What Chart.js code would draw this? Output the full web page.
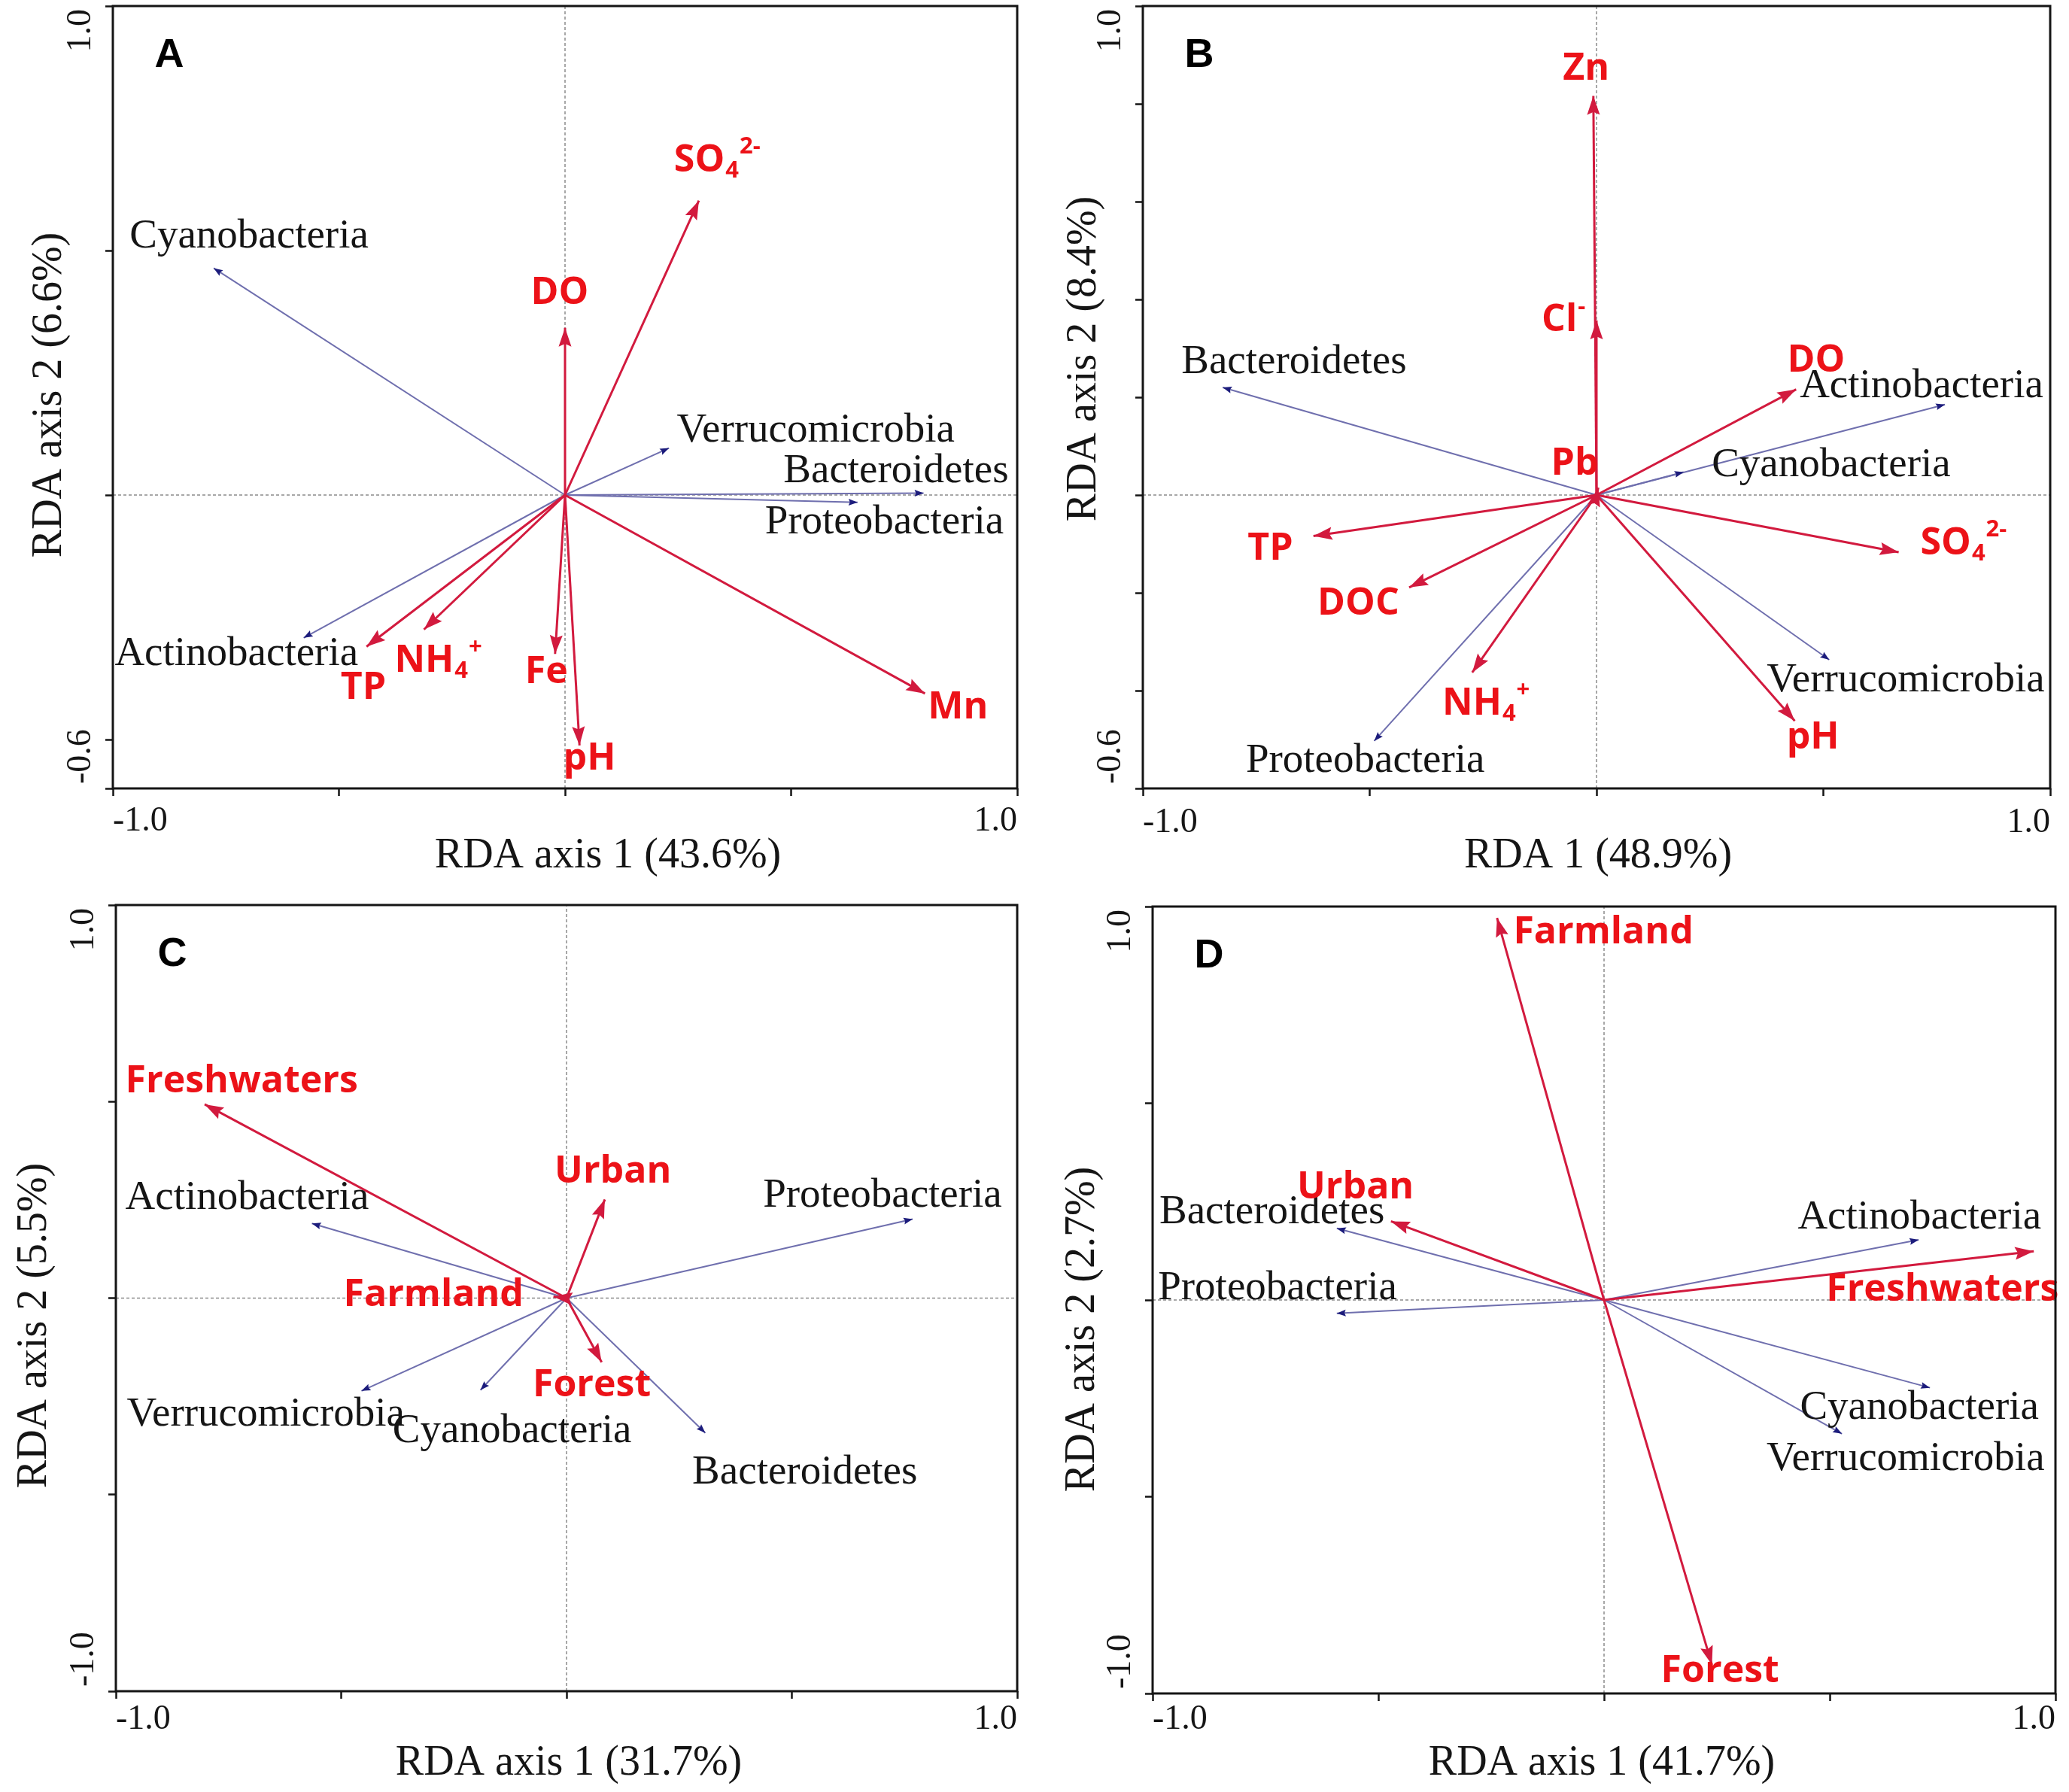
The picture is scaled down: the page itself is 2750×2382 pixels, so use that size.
<!DOCTYPE html>
<html>
<head>
<meta charset="utf-8">
<title>RDA biplots</title>
<script src="https://cdn.jsdelivr.net/npm/chart.js@4.4.1/dist/chart.umd.min.js"></script>
<style>
  html, body { margin: 0; padding: 0; background: #fff; }
  #wrap { position: relative; width: 2750px; height: 2382px; }
  canvas { position: absolute; }
</style>
</head>
<body>
<div id="wrap">
  <canvas id="panelA" width="1375" height="1191" style="left:0;top:0"></canvas>
  <canvas id="panelB" width="1375" height="1191" style="left:1375px;top:0"></canvas>
  <canvas id="panelC" width="1375" height="1191" style="left:0;top:1191px"></canvas>
  <canvas id="panelD" width="1375" height="1191" style="left:1375px;top:1191px"></canvas>
</div>
<script>
// ---- data ----
const xTicks = [-1.0, -0.5, 0, 0.5, 1.0];

// A: water chemistry
const speciesNamesA = ['Cyanobacteria', 'Verrucomicrobia', 'Bacteroidetes', 'Proteobacteria', 'Actinobacteria'];
const speciesXA = [-0.777, 0.230, 0.793, 0.647, -0.578];
const speciesYA = [0.464, 0.096, 0.004, -0.015, -0.292];
const envNamesA = ['SO_4^2-', 'DO', 'TP', 'NH_4^+', 'Fe', 'pH', 'Mn'];
const envXA = [0.296, 0.000, -0.439, -0.312, -0.022, 0.032, 0.796];
const envYA = [0.602, 0.342, -0.310, -0.275, -0.325, -0.512, -0.406];
const yTicksA = [-0.6, -0.5, 0, 0.5, 1.0];

// B: water chemistry + metals
const speciesNamesB = ['Bacteroidetes', 'Actinobacteria', 'Cyanobacteria', 'Verrucomicrobia', 'Proteobacteria'];
const speciesXB = [-0.824, 0.768, 0.192, 0.513, -0.490];
const speciesYB = [0.220, 0.185, 0.047, -0.337, -0.503];
const envNamesB = ['Zn', 'Cl^-', 'DO', 'Pb', 'TP', 'DOC', 'NH_4^+', 'SO_4^2-', 'pH'];
const envXB = [-0.007, 0.000, 0.440, 0.004, -0.624, -0.413, -0.274, 0.666, 0.437];
const envYB = [0.816, 0.357, 0.216, 0.015, -0.084, -0.189, -0.363, -0.117, -0.462];
const yTicksB = [-0.6, -0.4, -0.2, 0, 0.2, 0.4, 0.6, 0.8, 1.0];

// C: land use
const speciesNamesC = ['Actinobacteria', 'Proteobacteria', 'Verrucomicrobia', 'Cyanobacteria', 'Bacteroidetes'];
const speciesXC = [-0.565, 0.768, -0.455, -0.191, 0.308];
const speciesYC = [0.190, 0.201, -0.236, -0.234, -0.343];
const envNamesC = ['Freshwaters', 'Urban', 'Farmland', 'Forest'];
const envXC = [-0.803, 0.085, -0.029, 0.078];
const envYC = [0.493, 0.251, 0.004, -0.163];
const yTicksC = [-1.0, -0.5, 0, 0.5, 1.0];

// D: land use
const speciesNamesD = ['Bacteroidetes', 'Proteobacteria', 'Actinobacteria', 'Cyanobacteria', 'Verrucomicrobia'];
const speciesXD = [-0.592, -0.592, 0.697, 0.722, 0.527];
const speciesYD = [0.182, -0.034, 0.153, -0.223, -0.340];
const envNamesD = ['Farmland', 'Urban', 'Freshwaters', 'Forest'];
const envXD = [-0.237, -0.472, 0.952, 0.239];
const envYD = [0.971, 0.200, 0.124, -0.927];
const yTicksD = [-1.0, -0.5, 0, 0.5, 1.0];

// ---- label placement (data coords of the text anchor) ----
const placeA = {
  'Cyanobacteria': [-0.963, 0.529, 'left'], 'Verrucomicrobia': [0.247, 0.131, 'left'],
  'Bacteroidetes': [0.483, 0.049, 'left'], 'Proteobacteria': [0.442, -0.056, 'left'],
  'Actinobacteria': [-0.996, -0.325, 'left'],
  'SO_4^2-': [0.241, 0.684, 'left'], 'DO': [-0.012, 0.412, 'center'], 'TP': [-0.446, -0.395, 'center'],
  'NH_4^+': [-0.377, -0.339, 'left'], 'Fe': [-0.041, -0.363, 'center'], 'pH': [0.054, -0.540, 'center'],
  'Mn': [0.869, -0.435, 'center']
};
const placeB = {
  'Bacteroidetes': [-0.915, 0.271, 'left'], 'Actinobacteria': [0.448, 0.222, 'left'],
  'Cyanobacteria': [0.254, 0.061, 'left'], 'Verrucomicrobia': [0.375, -0.380, 'left'],
  'Proteobacteria': [-0.773, -0.544, 'left'],
  'Zn': [-0.023, 0.871, 'center'], 'Cl^-': [-0.121, 0.357, 'left'], 'DO': [0.484, 0.275, 'center'],
  'Pb': [-0.048, 0.064, 'center'], 'TP': [-0.719, -0.111, 'center'], 'DOC': [-0.525, -0.222, 'center'],
  'NH_4^+': [-0.340, -0.427, 'left'], 'SO_4^2-': [0.714, -0.099, 'left'], 'pH': [0.477, -0.497, 'center']
};
const placeC = {
  'Actinobacteria': [-0.979, 0.255, 'left'], 'Proteobacteria': [0.436, 0.260, 'left'],
  'Verrucomicrobia': [-0.976, -0.296, 'left'], 'Cyanobacteria': [-0.386, -0.339, 'left'],
  'Bacteroidetes': [0.279, -0.445, 'left'],
  'Freshwaters': [-0.979, 0.550, 'left'], 'Urban': [0.103, 0.321, 'center'],
  'Farmland': [-0.495, 0.007, 'left'], 'Forest': [0.056, -0.223, 'center']
};
const placeD = {
  'Bacteroidetes': [-0.985, 0.223, 'left'], 'Proteobacteria': [-0.988, 0.029, 'left'],
  'Actinobacteria': [0.429, 0.209, 'left'], 'Cyanobacteria': [0.434, -0.274, 'left'],
  'Verrucomicrobia': [0.360, -0.404, 'left'],
  'Farmland': [-0.201, 0.934, 'left'], 'Urban': [-0.680, 0.285, 'left'],
  'Freshwaters': [0.492, 0.025, 'left'], 'Forest': [0.126, -0.945, 'left']
};

const SERIF = '"Liberation Serif", "Times New Roman", serif';
const SANS = '"Open Sans", "Liberation Sans", Arial, sans-serif';
const RED_LINE = '#d21a3e';
const RED_TEXT = '#ec1218';
const BLUE_LINE = '#6f6fae';
const NAVY = '#1c1c7c';
const INK = '#151515';

const panels = [
  { id: 'panelA', letter: 'A', yMin: -0.6, yMax: 1.0, yTicks: yTicksA, yEnd: ['-0.6', '1.0'],
    spN: speciesNamesA, spX: speciesXA, spY: speciesYA, evN: envNamesA, evX: envXA, evY: envYA, place: placeA,
    xTitle: 'RDA axis 1 (43.6%)', yTitle: 'RDA axis 2 (6.6%)',
    area: { l: 150, r: 1352, t: 8, b: 1048 }, xT: [808, 1138], yT: [66, 525], xLab: 44 },
  { id: 'panelB', letter: 'B', yMin: -0.6, yMax: 1.0, yTicks: yTicksB, yEnd: ['-0.6', '1.0'],
    spN: speciesNamesB, spX: speciesXB, spY: speciesYB, evN: envNamesB, evX: envXB, evY: envYB, place: placeB,
    xTitle: 'RDA 1 (48.9%)', yTitle: 'RDA axis 2 (8.4%)',
    area: { l: 144, r: 1350, t: 8, b: 1048 }, xT: [749, 1138], yT: [66, 477], xLab: 46 },
  { id: 'panelC', letter: 'C', yMin: -1.0, yMax: 1.0, yTicks: yTicksC, yEnd: ['-1.0', '1.0'],
    spN: speciesNamesC, spX: speciesXC, spY: speciesYC, evN: envNamesC, evX: envXC, evY: envYC, place: placeC,
    xTitle: 'RDA axis 1 (31.7%)', yTitle: 'RDA axis 2 (5.5%)',
    area: { l: 154, r: 1352, t: 12, b: 1057 }, xT: [756, 1153], yT: [46, 571], xLab: 38 },
  { id: 'panelD', letter: 'D', yMin: -1.0, yMax: 1.0, yTicks: yTicksD, yEnd: ['-1.0', '1.0'],
    spN: speciesNamesD, spX: speciesXD, spY: speciesYD, evN: envNamesD, evX: envXD, evY: envYD, place: placeD,
    xTitle: 'RDA axis 1 (41.7%)', yTitle: 'RDA axis 2 (2.7%)',
    area: { l: 157, r: 1357, t: 14, b: 1060 }, xT: [754, 1153], yT: [64, 576], xLab: 35 }
];

// 'SO_4^2-' -> main SO, subscript 4, superscript 2-
function parseLabel(s) {
  let main = s, sub = '', sup = '';
  const c = main.indexOf('^');
  if (c >= 0) { sup = main.slice(c + 1); main = main.slice(0, c); }
  const u = main.indexOf('_');
  if (u >= 0) { sub = main.slice(u + 1); main = main.slice(0, u); }
  return { main, sub, sup };
}

function drawRichLabel(ctx, s, px, py, align, size, family, weight, color) {
  const p = parseLabel(s);
  const small = Math.round(size * 0.62);
  ctx.font = weight + ' ' + size + 'px ' + family;
  const wMain = ctx.measureText(p.main).width;
  ctx.font = weight + ' ' + small + 'px ' + family;
  const wSub = p.sub ? ctx.measureText(p.sub).width + 1 : 0;
  const wSup = p.sup ? ctx.measureText(p.sup).width : 0;
  const total = wMain + wSub + wSup;
  let x = align === 'center' ? px - total / 2 : px;
  ctx.fillStyle = color;
  ctx.textAlign = 'left';
  ctx.textBaseline = 'middle';
  ctx.font = weight + ' ' + size + 'px ' + family;
  ctx.fillText(p.main, x, py);
  x += wMain + 1;
  ctx.font = weight + ' ' + small + 'px ' + family;
  if (p.sub) { ctx.fillText(p.sub, x, py + size * 0.28); x += wSub; }
  if (p.sup) { ctx.fillText(p.sup, x, py - size * 0.36); }
}

function makeDecor(p) {
  return {
    id: 'rdaDecor' + p.letter,
    afterDatasetsDraw(chart) {
      const ctx = chart.ctx;
      const xs = chart.scales.x, ys = chart.scales.y;
      // arrow heads
      chart.data.datasets.forEach((ds, i) => {
        if (!ds.arrowKind) return;
        const pts = chart.getDatasetMeta(i).data;
        const a = pts[0], b = pts[1];
        const ang = Math.atan2(b.y - a.y, b.x - a.x);
        const env = ds.arrowKind === 'env';
        const len = env ? 25 : 12, half = env ? 8.5 : 4.5;
        ctx.save();
        ctx.fillStyle = env ? RED_LINE : NAVY;
        ctx.translate(b.x, b.y);
        ctx.rotate(ang);
        ctx.beginPath();
        ctx.moveTo(0, 0);
        ctx.lineTo(-len, -half);
        ctx.lineTo(-len * 0.85, 0);
        ctx.lineTo(-len, half);
        ctx.closePath();
        ctx.fill();
        ctx.restore();
      });
      // arrow labels
      ctx.save();
      p.spN.forEach(n => {
        const q = p.place[n];
        drawRichLabel(ctx, n, xs.getPixelForValue(q[0]), ys.getPixelForValue(q[1]), q[2], 55, SERIF, 'normal', INK);
      });
      p.evN.forEach(n => {
        const q = p.place[n];
        drawRichLabel(ctx, n, xs.getPixelForValue(q[0]), ys.getPixelForValue(q[1]), q[2], 50, SANS, 'bold', RED_TEXT);
      });
      ctx.restore();
    },
    afterDraw(chart) {
      const ctx = chart.ctx;
      const ca = chart.chartArea;
      ctx.save();
      // frame
      ctx.strokeStyle = INK;
      ctx.lineWidth = 3;
      ctx.strokeRect(ca.left, ca.top, ca.right - ca.left, ca.bottom - ca.top);
      // end tick labels
      ctx.fillStyle = INK;
      ctx.font = '46px ' + SERIF;
      ctx.textBaseline = 'middle';
      ctx.textAlign = 'left';
      ctx.fillText('-1.0', ca.left, ca.bottom + p.xLab);
      ctx.textAlign = 'right';
      ctx.fillText('1.0', ca.right, ca.bottom + p.xLab);
      ctx.save();
      ctx.translate(ca.left - 42, 0);
      ctx.rotate(-Math.PI / 2);
      ctx.textAlign = 'left';
      ctx.fillText(p.yEnd[0], -(ca.bottom - 6), 0);
      ctx.textAlign = 'right';
      ctx.fillText(p.yEnd[1], -(ca.top + 4), 0);
      ctx.restore();
      // axis titles
      ctx.font = '56px ' + SERIF;
      ctx.textAlign = 'center';
      ctx.fillText(p.xTitle, p.xT[0], p.xT[1]);
      ctx.save();
      ctx.translate(p.yT[0], p.yT[1]);
      ctx.rotate(-Math.PI / 2);
      ctx.fillText(p.yTitle, 0, 0);
      ctx.restore();
      // panel letter
      ctx.font = 'bold 54px "Liberation Sans", Arial, sans-serif';
      ctx.fillStyle = '#000';
      ctx.fillText(p.letter, ca.left + 75, ca.top + 66);
      ctx.restore();
    }
  };
}

function buildDatasets(p) {
  const base = { showLine: true, pointRadius: 0, pointHoverRadius: 0, fill: false, tension: 0 };
  const sets = [
    Object.assign({ data: [{ x: -1, y: 0 }, { x: 1, y: 0 }], borderColor: '#8c8c8c', borderWidth: 1.5, borderDash: [4, 3], order: 3 }, base),
    Object.assign({ data: [{ x: 0, y: p.yMin }, { x: 0, y: p.yMax }], borderColor: '#8c8c8c', borderWidth: 1.5, borderDash: [4, 3], order: 3 }, base)
  ];
  p.spN.forEach((n, i) => {
    sets.push(Object.assign({ label: n, data: [{ x: 0, y: 0 }, { x: p.spX[i], y: p.spY[i] }],
      borderColor: BLUE_LINE, borderWidth: 2, order: 2, arrowKind: 'species' }, base));
  });
  p.evN.forEach((n, i) => {
    sets.push(Object.assign({ label: n, data: [{ x: 0, y: 0 }, { x: p.evX[i], y: p.evY[i] }],
      borderColor: RED_LINE, borderWidth: 3, order: 1, arrowKind: 'env' }, base));
  });
  return sets;
}

function tickAxis(min, max, ticks) {
  return {
    type: 'linear', min: min, max: max,
    afterBuildTicks: s => { s.ticks = ticks.map(v => ({ value: v })); },
    ticks: { display: false },
    border: { display: false },
    grid: { display: true, drawOnChartArea: false, drawTicks: true, tickLength: 10, tickWidth: 2.5, tickColor: INK }
  };
}

panels.forEach(p => {
  const canvas = document.getElementById(p.id);
  const tick = 10;
  new Chart(canvas.getContext('2d'), {
    type: 'scatter',
    data: { datasets: buildDatasets(p) },
    options: {
      responsive: false,
      animation: false,
      devicePixelRatio: 1,
      events: [],
      layout: { padding: { left: p.area.l - tick, right: canvas.width - p.area.r, top: p.area.t, bottom: canvas.height - p.area.b - tick } },
      plugins: { legend: { display: false }, tooltip: { enabled: false } },
      scales: {
        x: tickAxis(-1, 1, xTicks),
        y: tickAxis(p.yMin, p.yMax, p.yTicks)
      }
    },
    plugins: [makeDecor(p)]
  });
});
</script>
</body>
</html>
